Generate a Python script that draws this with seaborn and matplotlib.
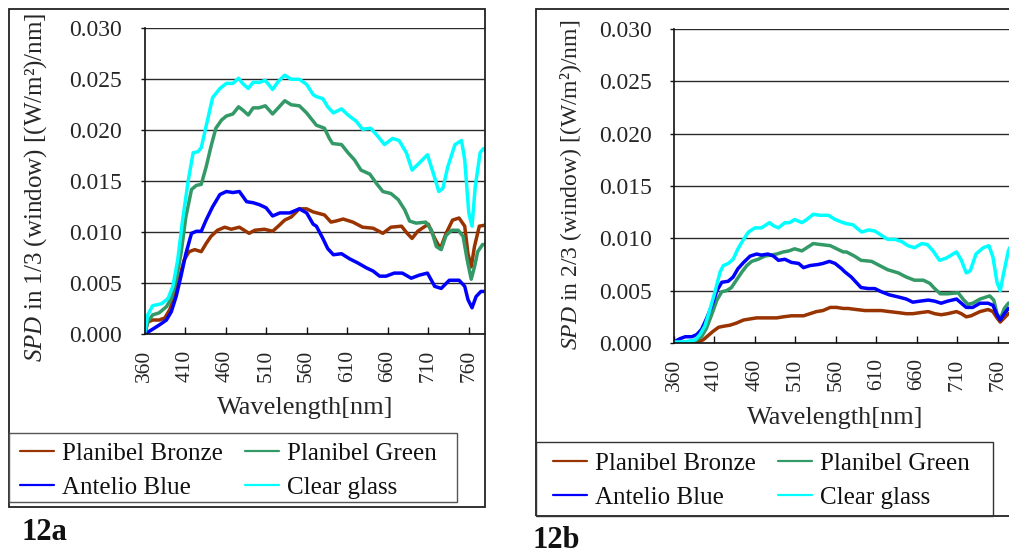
import numpy as np
import pandas as pd
import matplotlib
matplotlib.use("Agg")
import matplotlib.pyplot as plt
from matplotlib.lines import Line2D
from matplotlib.patches import Rectangle
import seaborn as sns

# ---------------- data ----------------
series_names = ["Planibel Bronze", "Planibel Green", "Antelio Blue", "Clear glass"]
series_colors = ["#993300", "#339966", "#0000FF", "#00FFFF"]
x_ticks = [360, 410, 460, 510, 560, 610, 660, 710, 760]
y_ticks = [0.000, 0.005, 0.010, 0.015, 0.020, 0.025, 0.030]

# Panel 12a : SPD in 1/3 (window)
a_bronze_nm = [360, 364, 370, 378, 385, 391, 397, 403, 409, 415, 422, 430, 436, 442, 450, 459, 467, 477, 483, 489,
               496, 508, 518, 525, 533, 541, 551, 560, 568, 582, 590, 596, 605, 617, 629, 642, 654, 664, 677, 684,
               690, 697, 710, 718, 725, 732, 740, 748, 755, 759, 763, 767, 773, 780]
a_bronze = [0.0000, 0.0012, 0.0014, 0.0014, 0.0016, 0.0024, 0.0037, 0.0055, 0.0073, 0.0081, 0.0083, 0.0081, 0.0089,
            0.0096, 0.0102, 0.0105, 0.0103, 0.0105, 0.0102, 0.0099, 0.0102, 0.0103, 0.0101, 0.0106, 0.0112, 0.0115,
            0.0123, 0.0123, 0.0120, 0.0117, 0.0110, 0.0111, 0.0113, 0.0110, 0.0105, 0.0104, 0.0099, 0.0105, 0.0106,
            0.0099, 0.0094, 0.0101, 0.0108, 0.0094, 0.0084, 0.0099, 0.0112, 0.0114, 0.0106, 0.0079, 0.0066, 0.0086,
            0.0106, 0.0107]

a_green_nm = [360, 364, 370, 378, 387, 393, 399, 405, 411, 418, 424, 430, 436, 442, 448, 455, 461, 469, 476, 481,
              488, 494, 501, 509, 518, 525, 533, 541, 551, 560, 568, 572, 582, 588, 592, 603, 611, 619, 627, 638,
              646, 654, 664, 673, 681, 687, 695, 707, 714, 720, 726, 732, 739, 747, 753, 758, 763, 767, 771, 777, 780]
a_green = [0.0000, 0.0012, 0.0019, 0.0021, 0.0027, 0.0035, 0.0053, 0.0079, 0.0115, 0.0142, 0.0146, 0.0147, 0.0164,
           0.0184, 0.0202, 0.0210, 0.0214, 0.0216, 0.0223, 0.0220, 0.0215, 0.0222, 0.0222, 0.0224, 0.0216, 0.0222,
           0.0229, 0.0225, 0.0224, 0.0217, 0.0209, 0.0205, 0.0202, 0.0192, 0.0187, 0.0186, 0.0178, 0.0171, 0.0161,
           0.0157, 0.0148, 0.0140, 0.0138, 0.0132, 0.0122, 0.0111, 0.0109, 0.0110, 0.0102, 0.0086, 0.0083, 0.0097,
           0.0102, 0.0102, 0.0096, 0.0073, 0.0054, 0.0066, 0.0081, 0.0088, 0.0088]

a_blue_nm = [360, 368, 378, 387, 393, 399, 405, 411, 418, 424, 430, 436, 444, 453, 461, 469, 477, 486, 494, 502,
             510, 518, 527, 539, 551, 560, 568, 572, 580, 586, 593, 603, 613, 623, 634, 642, 650, 658, 668, 678,
             689, 699, 709, 718, 726, 736, 748, 755, 759, 764, 769, 775, 780]
a_blue = [0.0000, 0.0004, 0.0009, 0.0014, 0.0022, 0.0037, 0.0057, 0.0079, 0.0099, 0.0101, 0.0101, 0.0112, 0.0125,
          0.0137, 0.0140, 0.0139, 0.0140, 0.0130, 0.0129, 0.0127, 0.0124, 0.0116, 0.0119, 0.0119, 0.0123, 0.0119,
          0.0108, 0.0106, 0.0094, 0.0084, 0.0078, 0.0079, 0.0074, 0.0070, 0.0065, 0.0062, 0.0057, 0.0057, 0.0060,
          0.0060, 0.0055, 0.0058, 0.0060, 0.0047, 0.0045, 0.0053, 0.0053, 0.0047, 0.0034, 0.0026, 0.0037, 0.0042,
          0.0042]

a_clear_nm = [360, 364, 370, 381, 389, 395, 401, 407, 414, 420, 426, 430, 436, 444, 453, 461, 469, 476, 481, 488,
              494, 502, 509, 518, 525, 533, 541, 551, 560, 568, 572, 580, 586, 593, 603, 611, 621, 629, 639, 648,
              656, 666, 674, 683, 690, 699, 709, 717, 723, 728, 734, 743, 751, 755, 760, 764, 768, 774, 778, 780]
a_clear = [0.0000, 0.0019, 0.0028, 0.0030, 0.0035, 0.0047, 0.0073, 0.0112, 0.0151, 0.0178, 0.0179, 0.0183, 0.0204,
           0.0232, 0.0241, 0.0246, 0.0246, 0.0251, 0.0246, 0.0241, 0.0247, 0.0247, 0.0249, 0.0240, 0.0248, 0.0254,
           0.0250, 0.0250, 0.0245, 0.0235, 0.0233, 0.0231, 0.0223, 0.0217, 0.0221, 0.0215, 0.0209, 0.0201, 0.0202,
           0.0194, 0.0186, 0.0192, 0.0190, 0.0178, 0.0161, 0.0168, 0.0176, 0.0156, 0.0140, 0.0143, 0.0164, 0.0186,
           0.0190, 0.0171, 0.0119, 0.0106, 0.0145, 0.0178, 0.0182, 0.0182]

# Panel 12b : SPD in 2/3 (window)
b_bronze_nm = [360, 380, 388, 396, 402, 408, 415, 421, 429, 437, 446, 454, 462, 478, 487, 495, 505, 520, 528, 536,
               544, 553, 561, 569, 575, 585, 596, 606, 616, 626, 637, 647, 655, 664, 674, 682, 690, 698, 709, 715,
               721, 727, 738, 748, 754, 759, 763, 768, 773, 780]
b_bronze = [0.0000, 0.0000, 0.0001, 0.0003, 0.0007, 0.0011, 0.0015, 0.0016, 0.0017, 0.0019, 0.0022, 0.0023, 0.0024,
            0.0024, 0.0024, 0.0025, 0.0026, 0.0026, 0.0028, 0.0030, 0.0031, 0.0034, 0.0034, 0.0033, 0.0033, 0.0032,
            0.0031, 0.0031, 0.0031, 0.0030, 0.0029, 0.0028, 0.0028, 0.0029, 0.0030, 0.0028, 0.0027, 0.0028, 0.0030,
            0.0028, 0.0025, 0.0026, 0.0030, 0.0032, 0.0030, 0.0024, 0.0020, 0.0024, 0.0028, 0.0030]

b_green_nm = [360, 376, 386, 394, 400, 407, 413, 419, 425, 431, 437, 444, 450, 456, 464, 472, 479, 487, 495, 502,
              509, 518, 524, 532, 542, 553, 561, 569, 573, 583, 591, 604, 614, 624, 637, 647, 657, 668, 676, 682,
              689, 698, 711, 717, 723, 729, 738, 750, 755, 759, 763, 768, 773, 780]
b_green = [0.0000, 0.0001, 0.0002, 0.0006, 0.0014, 0.0028, 0.0041, 0.0049, 0.0050, 0.0053, 0.0060, 0.0068, 0.0074,
           0.0078, 0.0080, 0.0083, 0.0084, 0.0085, 0.0087, 0.0088, 0.0090, 0.0088, 0.0091, 0.0095, 0.0094, 0.0093,
           0.0090, 0.0087, 0.0087, 0.0083, 0.0079, 0.0078, 0.0074, 0.0070, 0.0067, 0.0063, 0.0060, 0.0060, 0.0057,
           0.0052, 0.0047, 0.0047, 0.0048, 0.0042, 0.0037, 0.0038, 0.0042, 0.0045, 0.0041, 0.0028, 0.0023, 0.0033,
           0.0038, 0.0040]

b_blue_nm = [360, 367, 374, 382, 388, 394, 400, 407, 413, 419, 427, 433, 439, 446, 454, 462, 468, 476, 483, 489,
             497, 505, 514, 520, 528, 538, 544, 552, 559, 567, 571, 579, 585, 591, 600, 608, 616, 626, 637, 647,
             655, 664, 674, 682, 690, 698, 709, 715, 721, 729, 738, 748, 754, 759, 763, 768, 773, 780]
b_blue = [0.0001, 0.0004, 0.0006, 0.0006, 0.0008, 0.0013, 0.0023, 0.0036, 0.0050, 0.0058, 0.0059, 0.0063, 0.0071,
          0.0077, 0.0083, 0.0085, 0.0084, 0.0085, 0.0083, 0.0079, 0.0080, 0.0077, 0.0076, 0.0072, 0.0074, 0.0075,
          0.0076, 0.0078, 0.0076, 0.0071, 0.0068, 0.0063, 0.0058, 0.0053, 0.0052, 0.0052, 0.0049, 0.0046, 0.0044,
          0.0042, 0.0039, 0.0040, 0.0041, 0.0040, 0.0038, 0.0040, 0.0042, 0.0038, 0.0034, 0.0034, 0.0038, 0.0038,
          0.0036, 0.0027, 0.0022, 0.0028, 0.0033, 0.0034]

b_clear_nm = [360, 372, 380, 386, 392, 398, 404, 411, 417, 421, 427, 433, 439, 446, 452, 460, 468, 478, 483, 489,
              497, 503, 509, 518, 524, 532, 540, 551, 559, 569, 573, 581, 587, 592, 600, 608, 616, 624, 633, 641,
              649, 657, 666, 673, 680, 688, 696, 709, 715, 721, 726, 733, 742, 749, 754, 759, 763, 767, 773, 776, 780]
b_clear = [0.0001, 0.0001, 0.0002, 0.0003, 0.0008, 0.0016, 0.0031, 0.0050, 0.0068, 0.0074, 0.0076, 0.0080, 0.0090,
           0.0099, 0.0106, 0.0110, 0.0110, 0.0115, 0.0112, 0.0110, 0.0115, 0.0115, 0.0118, 0.0115, 0.0118, 0.0123,
           0.0122, 0.0122, 0.0118, 0.0115, 0.0114, 0.0113, 0.0109, 0.0106, 0.0108, 0.0107, 0.0103, 0.0099, 0.0099,
           0.0097, 0.0093, 0.0091, 0.0095, 0.0094, 0.0088, 0.0079, 0.0081, 0.0087, 0.0079, 0.0067, 0.0069, 0.0085,
           0.0091, 0.0093, 0.0082, 0.0058, 0.0050, 0.0066, 0.0088, 0.0093, 0.0094]


def long_frame(pairs):
    parts = []
    for name, nm, val in pairs:
        parts.append(pd.DataFrame({"nm": nm, "spd": val, "glass": name}))
    return pd.concat(parts, ignore_index=True)


df_a = long_frame([(series_names[0], a_bronze_nm, a_bronze), (series_names[1], a_green_nm, a_green),
                   (series_names[2], a_blue_nm, a_blue), (series_names[3], a_clear_nm, a_clear)])
df_b = long_frame([(series_names[0], b_bronze_nm, b_bronze), (series_names[1], b_green_nm, b_green),
                   (series_names[2], b_blue_nm, b_blue), (series_names[3], b_clear_nm, b_clear)])

# ---------------- style ----------------
sns.set_theme(style="white")
plt.rcParams["font.family"] = ["Liberation Serif", "DejaVu Serif"]
plt.rcParams["mathtext.fontset"] = "custom"
plt.rcParams["mathtext.rm"] = "Liberation Serif"
plt.rcParams["mathtext.it"] = "Liberation Serif:italic"
plt.rcParams["text.color"] = "#111111"

W, H = 1009, 555
fig = plt.figure(figsize=(W / 100, H / 100), dpi=100)
fig.patch.set_facecolor("white")


def fx(px):
    return px / W


def fy(py):
    return 1 - py / H


palette = dict(zip(series_names, series_colors))


def make_panel(df, left, top, right, bottom, ylab, ylab_xy, ylab_size, xlab_xy):
    ax = fig.add_axes([fx(left), fy(bottom), (right - left) / W, (bottom - top) / H])
    ax.set_facecolor("white")
    sns.lineplot(data=df, x="nm", y="spd", hue="glass", palette=palette, hue_order=series_names,
                 estimator=None, sort=False, lw=2.5, legend=False, ax=ax)
    ax.set_xlim(360, 780)
    ax.set_ylim(0, 0.030)
    ax.set_yticks(y_ticks)
    ax.set_yticklabels([f"{v:.3f}" for v in y_ticks])
    ax.set_xticks(x_ticks)
    ax.set_xticklabels([str(v) for v in x_ticks], rotation=90)
    ax.yaxis.grid(True, color="#2a2a2a", lw=1.0)
    ax.xaxis.grid(False)
    ax.set_axisbelow(True)
    for s in ["top", "right"]:
        ax.spines[s].set_visible(False)
    for s in ["left", "bottom"]:
        ax.spines[s].set_color("#111111")
        ax.spines[s].set_linewidth(1.2)
    ax.tick_params(axis="x", direction="in", length=5, width=1, color="#111111",
                   labelsize=15.5, pad=11, bottom=True)
    ax.tick_params(axis="y", direction="out", length=3, width=1, color="#111111",
                   labelsize=17, pad=13, left=True)
    ax.set_xlabel("Wavelength[nm]", fontsize=19)
    ax.xaxis.set_label_coords(fx(xlab_xy[0]), fy(xlab_xy[1]), transform=fig.transFigure)
    ax.xaxis.label.set_va("center")
    ax.set_ylabel(ylab, fontsize=ylab_size, va="center", ha="center")
    ax.yaxis.set_label_coords(fx(ylab_xy[0]), fy(ylab_xy[1]), transform=fig.transFigure)
    return ax


ax_a = make_panel(df_a, 144.5, 28.3, 485, 334.3,
                  "$\\mathit{SPD}$ in 1/3 (window) [(W/m²)/nm]", (35.5, 187.5), 18, (305, 408))
ax_b = make_panel(df_b, 674, 29, 1014, 343,
                  "$\\mathit{SPD}$ in 2/3 (window) [(W/m²)/nm]", (571, 185), 17, (835, 418))


def frame(x0, y0, x1, y1, lw=1.3, color="#222222"):
    fig.add_artist(Rectangle((fx(x0), fy(y1)), (x1 - x0) / W, (y1 - y0) / H, transform=fig.transFigure,
                             fill=False, edgecolor=color, lw=lw))


# outer chart frames
frame(9, 9, 485, 507)
frame(536, 9, 1030, 516)
# legend boxes
frame(9, 433, 457, 502, lw=1.0, color="#555555")
frame(536, 442, 993, 516, lw=1.0, color="#333333")

# legend entries laid out row-wise: (Bronze, Green) / (Blue, Clear glass); matplotlib fills column-wise
legend_order = [0, 2, 1, 3]
handles = [Line2D([0], [0], color=series_colors[i], lw=1.6) for i in legend_order]
labels = [series_names[i] for i in legend_order]
for anchor_x, anchor_y in [(20, 442), (553, 452)]:
    fig.legend(handles, labels, loc="upper left", bbox_to_anchor=(fx(anchor_x), fy(anchor_y)),
               ncol=2, frameon=False, fontsize=18, handlelength=1.36, handletextpad=0.32,
               borderpad=0, borderaxespad=0, labelspacing=0.48, columnspacing=0.9)

fig.text(fx(44), fy(532), "12a", fontsize=22, fontweight="bold", ha="center", va="center")
fig.text(fx(556), fy(540), "12b", fontsize=22, fontweight="bold", ha="center", va="center")

fig.savefig("out.png", dpi=100, facecolor="white")
